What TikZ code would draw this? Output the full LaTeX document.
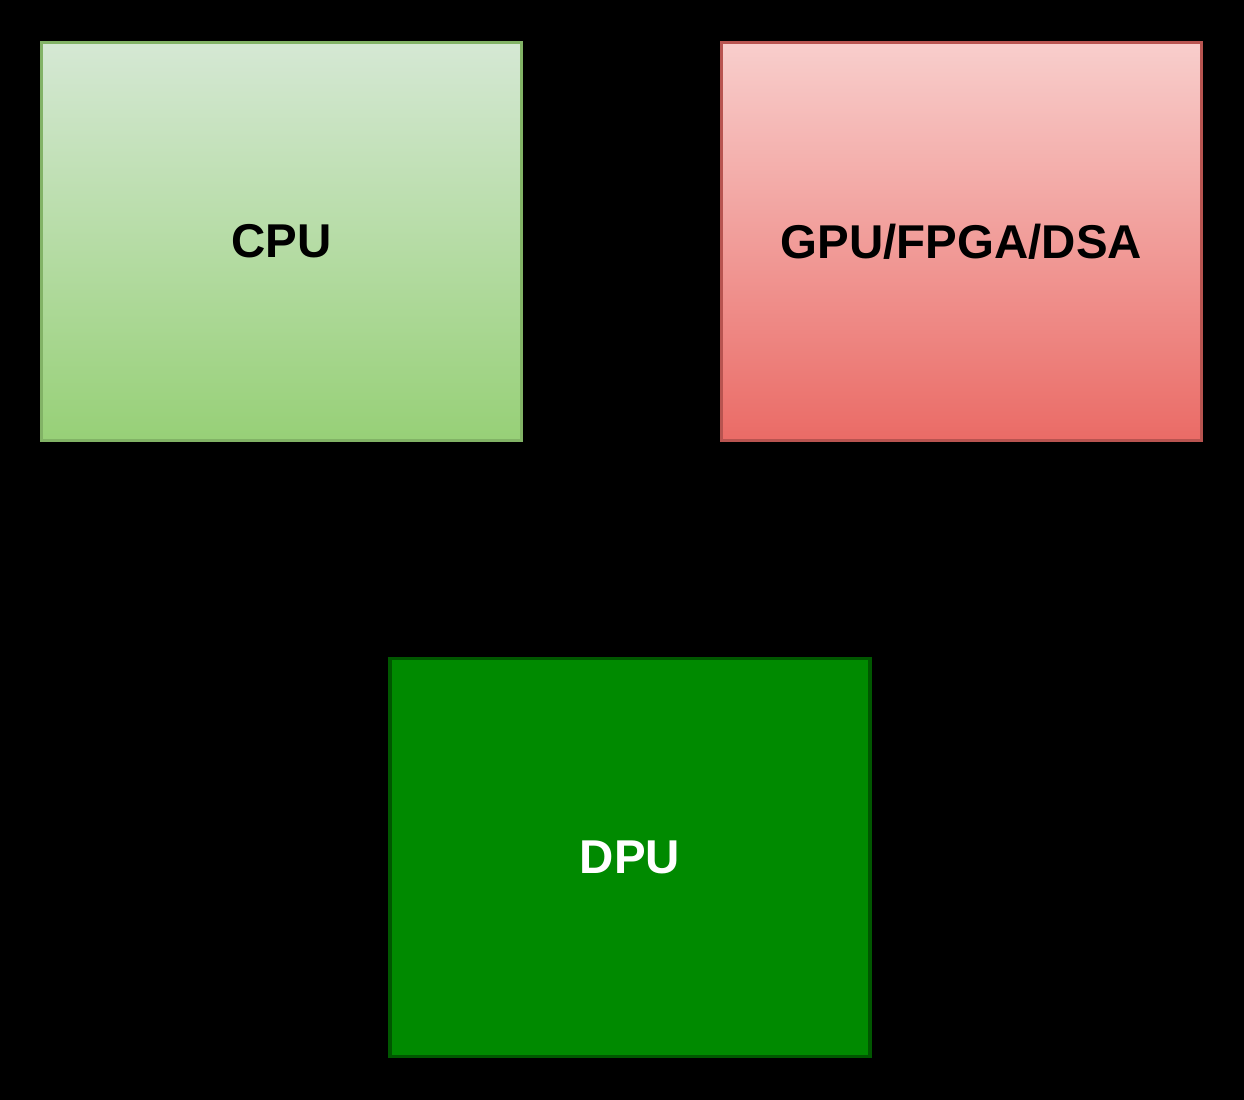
\documentclass[tikz,border=0pt]{standalone}
\usepackage{fontspec}
\setmainfont{Liberation Sans}
\usetikzlibrary{positioning}
\usetikzlibrary{arrows.meta}
\definecolor{cputop}{HTML}{D5E8D4}
\definecolor{cpubottom}{HTML}{97D077}
\definecolor{cpuline}{HTML}{82B366}
\definecolor{gputop}{HTML}{F8CECC}
\definecolor{gpubottom}{HTML}{EA6B66}
\definecolor{gpuline}{HTML}{B85450}
\definecolor{dpufill}{HTML}{008A00}
\definecolor{dpuline}{HTML}{005700}
\tikzset{
        unitnode/.style={align=center, inner sep=0pt, rectangle, line width=1.9pt,
            minimum width=9.6cm, minimum height=7.96cm,
            font=\fontsize{27}{32}\selectfont\bfseries},
        % Host processor
        node_cpu/.style={unitnode, draw=cpuline, top color=cputop, bottom color=cpubottom, text=black},
        % Accelerators
        node_gpu/.style={unitnode, draw=gpuline, top color=gputop, bottom color=gpubottom, text=black},
        % Data processing unit
        node_dpu/.style={unitnode, draw=dpuline, fill=dpufill, text=white},
        % Links
        link/.style={black, line width=1pt, {Stealth[length=8pt]}-{Stealth[length=8pt]}, rounded corners=10pt}
}

\begin{document}
\begin{tikzpicture}
    % canvas
    \fill[black] (0,0) rectangle (24.88,-22);
    \useasboundingbox (0,0) rectangle (24.88,-22);

    \node[node_cpu] (cpu) at (5.63,-4.83) {CPU};
    \node[node_gpu, right=3.93cm of cpu] (gpu) {GPU/FPGA/DSA};
    \node[node_dpu] (dpu) at (12.6,-17.15) {DPU};

    \draw[link] (cpu) -- (gpu);
    \draw[link] (cpu.south) |- ([yshift=2cm]dpu.north) -- (dpu.north);
    \draw[link] (gpu.south) |- ([yshift=2cm]dpu.north) -- (dpu.north);
\end{tikzpicture}
\end{document}
